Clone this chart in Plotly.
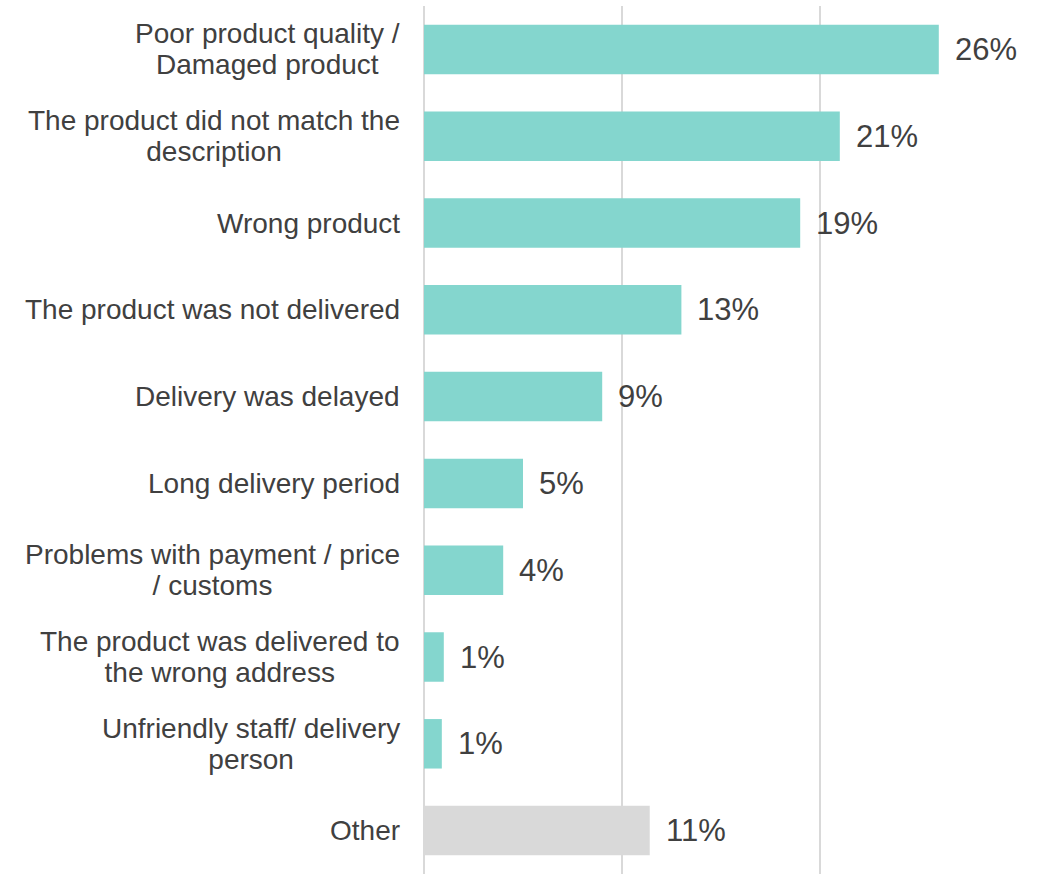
import plotly.graph_objects as go

categories = [
    "Poor product quality /<br>Damaged product",
    "The product did not match the<br>description",
    "Wrong product",
    "The product was not delivered",
    "Delivery was delayed",
    "Long delivery period",
    "Problems with payment / price<br>/ customs",
    "The product was delivered to<br>the wrong address",
    "Unfriendly staff/ delivery<br>person",
    "Other",
]
values = [26.0, 21.0, 19.0, 13.0, 9.0, 5.0, 4.0, 1.0, 0.9, 11.4]
labels = ["26%", "21%", "19%", "13%", "9%", "5%", "4%", "1%", "1%", "11%"]

TEAL = "#84D6CE"
GREY = "#D9D9D9"
TEXT = "#404040"
FONT = "Liberation Sans, Arial"
colors = [TEAL] * 9 + [GREY]

fig = go.Figure(
    go.Bar(
        x=values,
        y=categories,
        orientation="h",
        marker=dict(color=colors, line=dict(width=0)),
        hoverinfo="skip",
    )
)

annotations = []
for cat in categories:
    lines = cat.split("<br>")
    txt = "<br>".join('<span style="font-size:28px">%s</span>' % ln for ln in lines)
    annotations.append(
        dict(
            x=0, xref="paper", y=cat, yref="y",
            text=txt, showarrow=False,
            xanchor="right", yanchor="middle", align="center",
            xshift=-22,
            font=dict(size=24, color=TEXT, family=FONT),
        )
    )
for cat, v, lab in zip(categories, values, labels):
    annotations.append(
        dict(
            x=v, xref="x", y=cat, yref="y",
            text=lab, showarrow=False,
            xanchor="left", yanchor="middle",
            xshift=14,
            font=dict(size=31, color=TEXT, family=FONT),
        )
    )

fig.update_layout(
    width=1043,
    height=874,
    margin=dict(l=424, r=25, t=6, b=0),
    paper_bgcolor="white",
    plot_bgcolor="white",
    bargap=0.43,
    showlegend=False,
    font=dict(family=FONT, color=TEXT),
    annotations=annotations,
)
fig.update_xaxes(
    range=[0, 30],
    dtick=10,
    showgrid=True,
    gridcolor=GREY,
    gridwidth=2,
    zeroline=True,
    zerolinecolor=GREY,
    zerolinewidth=2,
    showticklabels=False,
    showline=False,
    fixedrange=True,
)
fig.update_yaxes(
    categoryorder="array",
    categoryarray=categories[::-1],
    autorange=False,
    range=[-0.5, len(categories) - 0.5],
    showticklabels=False,
    showgrid=False,
    showline=False,
    fixedrange=True,
)

fig.write_html(
    "out.html",
    config={"displayModeBar": False},
    post_script="document.body.style.margin='0';",
)
